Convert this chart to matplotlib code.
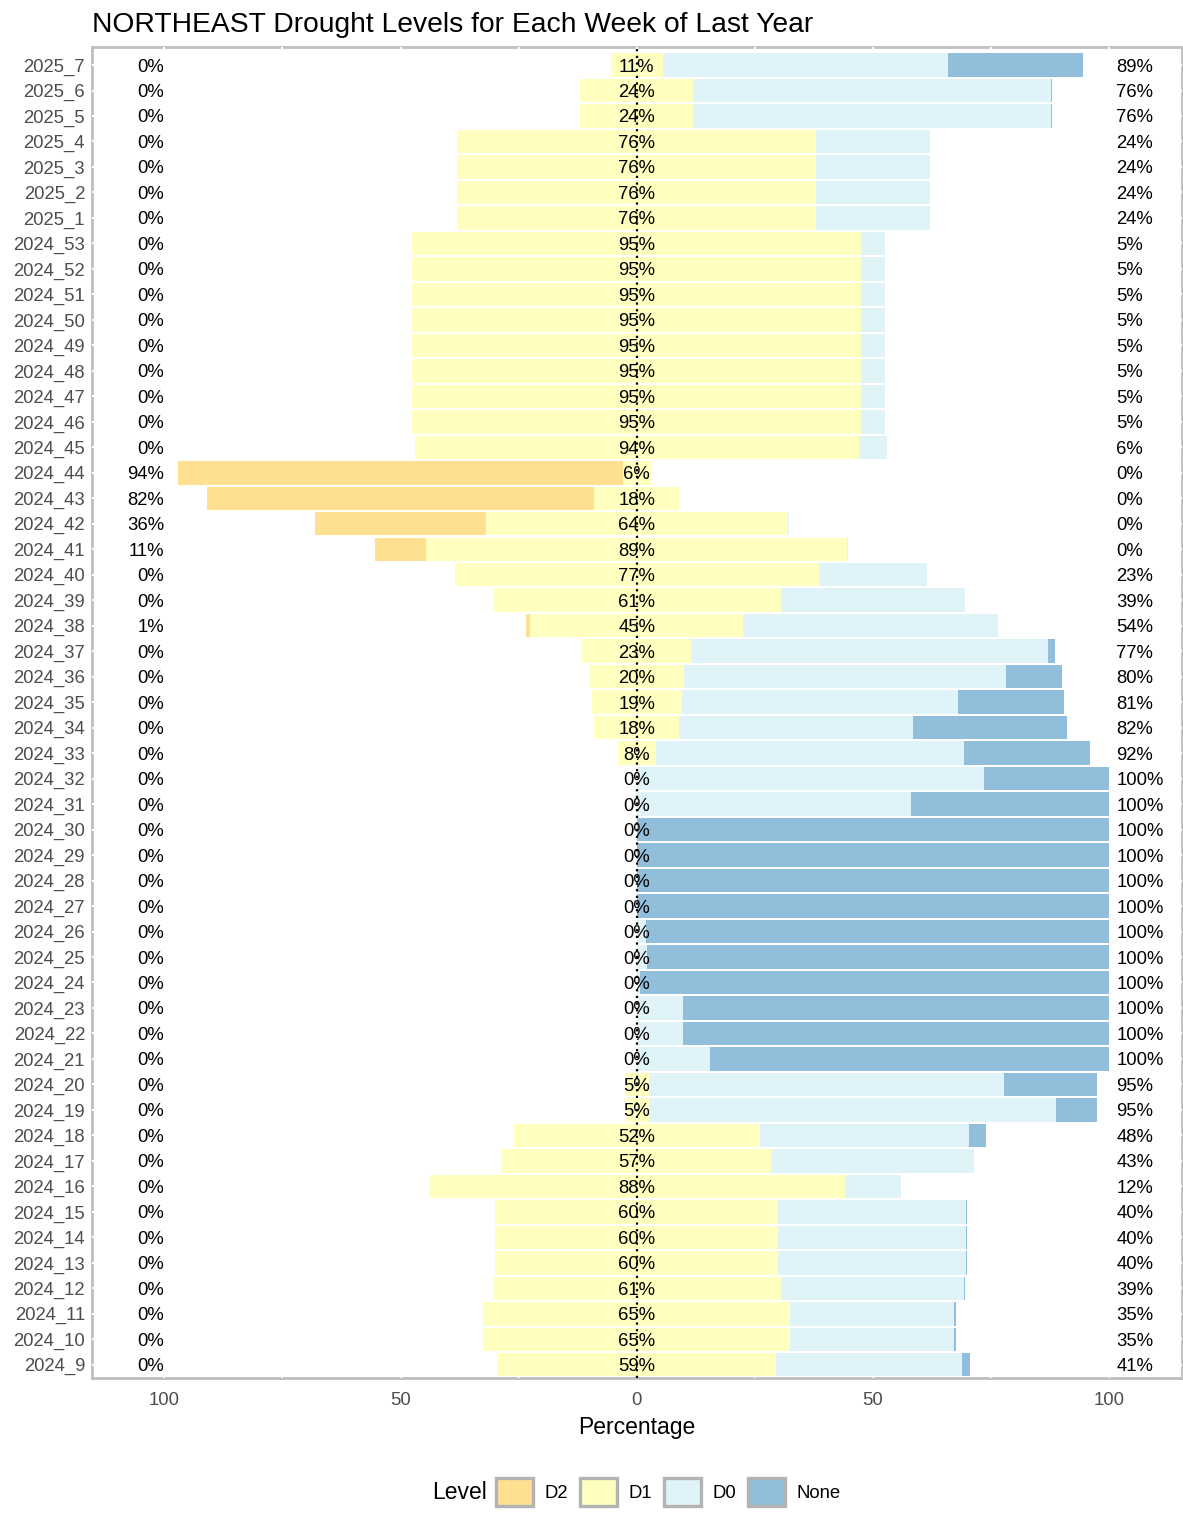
import numpy as np
import matplotlib
matplotlib.use("Agg")
import matplotlib.pyplot as plt
from matplotlib.patches import Patch

plt.rcParams["font.family"] = ["Liberation Sans", "DejaVu Sans"]

# weeks from bottom (2024_9) to top (2025_7)
weeks = ["2024_%d" % w for w in range(9, 54)] + ["2025_%d" % w for w in range(1, 8)]

d2 = [0, 0, 0, 0, 0, 0, 0, 0, 0, 0, 0, 0,          # 9-20
      0, 0, 0, 0, 0, 0, 0, 0, 0, 0, 0, 0,          # 21-32
      0, 0, 0, 0, 0, 1, 0, 0, 11, 36, 82, 94,      # 33-44
      0, 0, 0, 0, 0, 0, 0, 0, 0,                   # 45-53
      0, 0, 0, 0, 0, 0, 0]                         # 2025_1-7
d1 = [59, 65, 65, 61, 60, 60, 60, 88, 57, 52, 5, 5,
      0, 0, 0, 0, 0, 0, 0, 0, 0, 0, 0, 0,
      8, 18, 19, 20, 23, 45, 61, 77, 89, 64, 18, 6,
      94, 95, 95, 95, 95, 95, 95, 95, 95,
      76, 76, 76, 76, 24, 24, 11]
d0 = [39.4, 34.7, 34.7, 38.8, 39.8, 39.8, 39.8, 12, 43, 44.4, 86.3, 75.3,
      15.6, 9.7, 9.7, 0.6, 2.1, 1.9, 0, 0, 0, 0, 58.1, 73.6,
      65.3, 49.4, 58.6, 68.2, 75.6, 54, 39, 23, 0.2, 0.2, 0, 0,
      6, 5, 5, 5, 5, 5, 5, 5, 5,
      24, 24, 24, 24, 75.7, 75.7, 60.5]
none = [1.6, 0.3, 0.3, 0.2, 0.2, 0.2, 0.2, 0, 0, 3.6, 8.7, 19.7,
        84.4, 90.3, 90.3, 99.4, 97.9, 98.1, 100, 100, 100, 100, 41.9, 26.4,
        26.7, 32.6, 22.4, 11.8, 1.4, 0, 0, 0, 0, 0, 0, 0,
        0, 0, 0, 0, 0, 0, 0, 0, 0,
        0, 0, 0, 0, 0.3, 0.3, 28.5]

levels = ["D2", "D1", "D0", "None"]
colors = {"D2": "#fee090", "D1": "#ffffbf", "D0": "#e0f3f8", "None": "#91bfdb"}

d2 = np.array(d2, dtype=float)
d1 = np.array(d1, dtype=float)
d0 = np.array(d0, dtype=float)
none = np.array(none, dtype=float)
y = np.arange(len(weeks))

fig = plt.figure(figsize=(11.83, 15.22), dpi=100)
ax = fig.add_axes([0.0778, 0.0946, 0.9212, 0.8744])

h = 0.92
ax.barh(y, d1, left=-d1 / 2, height=h, color=colors["D1"], zorder=2)
ax.barh(y, d2, left=-d1 / 2 - d2, height=h, color=colors["D2"], zorder=2)
ax.barh(y, d0, left=d1 / 2, height=h, color=colors["D0"], zorder=2)
ax.barh(y, none, left=d1 / 2 + d0, height=h, color=colors["None"], zorder=2)

ax.axvline(0, color="black", linestyle=(0, (1, 2)), lw=1.6, zorder=3)

fs = 13.3
for i in range(len(weeks)):
    ax.text(-100, y[i], "%d%%" % round(d2[i]), ha="right", va="center_baseline", fontsize=fs, zorder=4)
    ax.text(0, y[i], "%d%%" % round(d1[i]), ha="center", va="center_baseline", fontsize=fs, zorder=4)
    ax.text(101.5, y[i], "%d%%" % round(d0[i] + none[i]), ha="left", va="center_baseline", fontsize=fs, zorder=4)

ax.set_xlim(-115.3, 115.4)
ax.set_ylim(-0.52, len(weeks) - 0.3)
ax.set_yticks(y)
ax.set_yticklabels(weeks)
ax.set_xticks([-100, -50, 0, 50, 100])
ax.set_xticklabels(["100", "50", "0", "50", "100"])
ax.set_xticks(np.arange(-100, 101, 25), minor=True)
ax.tick_params(which="both", length=0, labelsize=fs, labelcolor="#4d4d4d")
ax.tick_params(axis="x", pad=10)
ax.tick_params(axis="y", pad=5)

ax.set_axisbelow(True)
ax.grid(True, which="both", color="white", lw=1.5)
for s in ax.spines.values():
    s.set_color("#bebebe")
    s.set_linewidth(2)
    s.set_zorder(0.4)

ax.set_xlabel("Percentage", fontsize=16.5, labelpad=5)
ax.set_title("NORTHEAST Drought Levels for Each Week of Last Year", loc="left",
             fontsize=20.3, pad=11, x=0.0)

handles = [Patch(facecolor=colors[k], edgecolor="#b3b3b3", lw=2.4) for k in levels]
fig.text(0.365, 0.0197, "Level", fontsize=16.5, va="center", ha="left")
fig.legend(handles, levels, loc="center left", bbox_to_anchor=(0.419, 0.0197),
           ncol=4, frameon=False, fontsize=fs, handlelength=2.0, handleheight=2.0,
           handletextpad=0.65, columnspacing=0.62, borderaxespad=0, borderpad=0)

fig.savefig("out.png", dpi=100)
